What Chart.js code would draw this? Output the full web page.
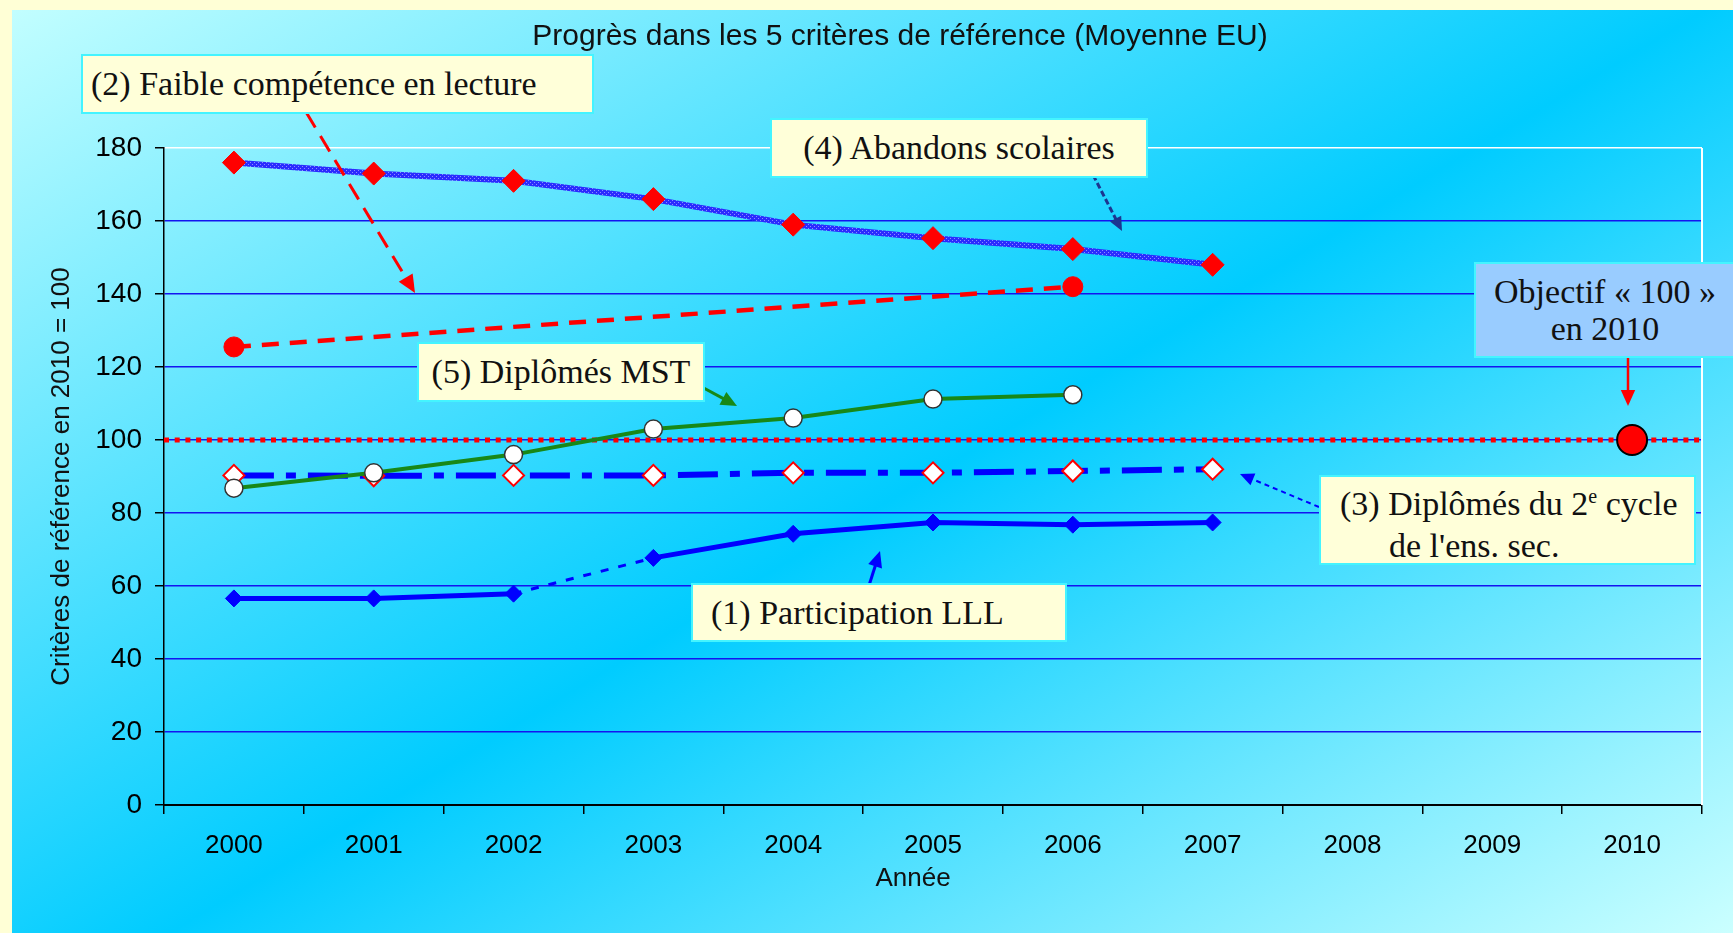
<!DOCTYPE html>
<html>
<head>
<meta charset="utf-8">
<script src="https://cdn.jsdelivr.net/npm/chart.js@4.4.0/dist/chart.umd.min.js"></script>
<style>
  body { margin: 0; }
  #page { position: relative; width: 1733px; height: 933px; background: #ffffd6; overflow: hidden; }
  #panel { position: absolute; left: 12px; top: 10px; right: 0; bottom: 0;
           background: linear-gradient(149deg, #c2feff 0%, #00ccff 52%, #cbffff 100%); }
  #chart { position: absolute; left: 0; top: 0; }
  .title { position: absolute; left: 900px; top: 21px; transform: translateX(-50%);
           font-family: 'Liberation Sans', Arial, sans-serif; font-size: 30px; line-height: 28px;
           white-space: nowrap; color: #111; }
  .xtitle { position: absolute; left: 913px; top: 863px; transform: translateX(-50%);
            font-family: 'Liberation Sans', Arial, sans-serif; font-size: 26px; line-height: 28px; color: #111; }
  .box { position: absolute; box-sizing: border-box; background: #ffffd9; border: 2px solid #44f4ff;
         font-family: 'Liberation Serif', serif; font-size: 34px; color: #111; white-space: nowrap;
         display: flex; align-items: center; }
  .center { justify-content: center; }
</style>
</head>
<body>
<div id="page">
  <div id="panel"></div>
  <canvas id="chart" width="1733" height="933"></canvas>
  <div class="title">Progrès dans les 5 critères de référence (Moyenne EU)</div>
  <div class="xtitle">Année</div>

  <div class="box" style="left:81px; top:54px; width:513px; height:60px; padding-left:8px;">(2) Faible compétence en lecture</div>
  <div class="box center" style="left:770px; top:118px; width:378px; height:60px;">(4) Abandons scolaires</div>
  <div class="box center" style="left:1474px; top:262px; width:262px; height:96px; background:#99ccff; text-align:center; line-height:37px;">Objectif « 100 »<br>en 2010</div>
  <div class="box center" style="left:417px; top:342px; width:288px; height:60px;">(5) Diplômés MST</div>
  <div class="box" style="left:1319px; top:475px; width:377px; height:90px; display:block; line-height:37px; padding-top:8px;">
    <div style="padding-left:19px;">(3) Diplômés du 2<span style="font-size:20px; position:relative; top:-12px;">e</span> cycle</div>
    <div style="padding-left:68px;">de l'ens. sec.</div>
  </div>
  <div class="box" style="left:691px; top:583px; width:376px; height:59px; padding-left:18px;">(1) Participation LLL</div>
</div>

<script>
// years on the x axis
const years = ['2000', '2001', '2002', '2003', '2004', '2005', '2006', '2007', '2008', '2009', '2010'];

// series (2010 = 100)
const lllValues      = [56.6, 56.6, 57.9, 67.7, 74.3, 77.4, 76.8, 77.4, null, null, null];
const readingValues  = [125.5, null, null, null, null, null, 142, null, null, null, null];
const upperSecValues = [90.3, 90.2, 90.3, 90.3, 91, 91, 91.5, 92, null, null, null];
const dropoutValues  = [176, 173, 171, 166, 159, 155.3, 152.3, 148, null, null, null];
const mstValues      = [86.8, 91, 96, 103, 106, 111.2, 112.4, null, null, null, null];
const targetValues   = [null, null, null, null, null, null, null, null, null, null, 100];

const targetLevel = 100;
const yMin = 0, yMax = 180, yStep = 20;

// textured blue for the drop-out line
function hatch() {
  const c = document.createElement('canvas');
  c.width = 4; c.height = 4;
  const g = c.getContext('2d');
  g.fillStyle = '#2b2bff';
  g.fillRect(0, 0, 4, 4);
  g.fillStyle = '#8c8cff';
  g.fillRect(0, 0, 1, 1);
  g.fillRect(2, 2, 1, 1);
  return g.createPattern(c, 'repeat');
}

function arrow(ctx, x1, y1, x2, y2, color, width, dash, head) {
  const a = Math.atan2(y2 - y1, x2 - x1);
  const hl = head || 14;
  ctx.save();
  ctx.strokeStyle = color;
  ctx.fillStyle = color;
  ctx.lineWidth = width;
  ctx.setLineDash(dash || []);
  ctx.beginPath();
  ctx.moveTo(x1, y1);
  ctx.lineTo(x2 - Math.cos(a) * hl * 0.8, y2 - Math.sin(a) * hl * 0.8);
  ctx.stroke();
  ctx.setLineDash([]);
  ctx.beginPath();
  ctx.moveTo(x2, y2);
  ctx.lineTo(x2 - hl * Math.cos(a) + hl * 0.45 * Math.sin(a), y2 - hl * Math.sin(a) - hl * 0.45 * Math.cos(a));
  ctx.lineTo(x2 - hl * Math.cos(a) - hl * 0.45 * Math.sin(a), y2 - hl * Math.sin(a) + hl * 0.45 * Math.cos(a));
  ctx.closePath();
  ctx.fill();
  ctx.restore();
}

const decorations = {
  id: 'decorations',
  beforeDatasetsDraw(chart) {
    const {ctx, chartArea, scales} = chart;
    ctx.save();
    // white right border of the plot
    ctx.strokeStyle = '#ffffff';
    ctx.lineWidth = 2;
    ctx.beginPath();
    ctx.moveTo(chartArea.right, chartArea.top);
    ctx.lineTo(chartArea.right, chartArea.bottom);
    ctx.stroke();
    // target line at 100
    const y = scales.y.getPixelForValue(targetLevel);
    ctx.strokeStyle = '#ff0000';
    ctx.lineWidth = 5;
    ctx.setLineDash([5, 5.7]);
    ctx.beginPath();
    ctx.moveTo(chartArea.left, y);
    ctx.lineTo(chartArea.right, y);
    ctx.stroke();
    ctx.restore();
  },
  afterDatasetsDraw(chart) {
    const ctx = chart.ctx;
    arrow(ctx, 306, 112, 415, 293, '#ff0000', 3, [18, 10], 18);
    arrow(ctx, 1089, 167, 1122, 231, '#1c3590', 3, [6, 3], 14);
    arrow(ctx, 1628, 358, 1628, 406, '#ff0000', 2.5, [], 16);
    arrow(ctx, 700, 386, 737, 406, '#188818', 3, [], 16);
    arrow(ctx, 865, 598, 880, 551, '#0000ff', 3, [], 16);
    arrow(ctx, 1319, 507, 1240, 474, '#0000ff', 2, [5, 4], 14);
  }
};

new Chart(document.getElementById('chart'), {
  type: 'line',
  data: {
    labels: years,
    datasets: [
      {
        label: '(5) Diplômés MST',
        data: mstValues,
        order: 0,
        borderColor: '#188818',
        borderWidth: 4,
        pointStyle: 'circle',
        pointRadius: 9,
        pointBackgroundColor: '#ffffff',
        pointBorderColor: '#333333',
        pointBorderWidth: 1.5
      },
      {
        label: "(3) Diplômés du 2e cycle de l'ens. sec.",
        data: upperSecValues,
        order: 1,
        borderColor: '#0000ff',
        borderWidth: 6,
        borderDash: [40, 12, 10, 12],
        pointStyle: 'rectRot',
        pointRadius: 10.5,
        pointBackgroundColor: '#ffffff',
        pointBorderColor: '#ff0000',
        pointBorderWidth: 2
      },
      {
        label: '(1) Participation LLL',
        data: lllValues,
        order: 2,
        borderColor: '#0000ff',
        borderWidth: 5,
        segment: {
          borderDash: ctx => ctx.p0DataIndex === 2 ? [8, 10] : undefined,
          borderWidth: ctx => ctx.p0DataIndex === 2 ? 3 : undefined
        },
        pointStyle: 'rectRot',
        pointRadius: 8.5,
        pointBackgroundColor: '#0000ff',
        pointBorderColor: '#0000ff',
        pointBorderWidth: 1
      },
      {
        label: '(2) Faible compétence en lecture',
        data: readingValues,
        order: 3,
        spanGaps: true,
        borderColor: '#ff0000',
        borderWidth: 4.5,
        borderDash: [17, 11],
        pointStyle: 'circle',
        pointRadius: 10,
        pointBackgroundColor: '#ff0000',
        pointBorderColor: '#ff0000',
        pointBorderWidth: 1
      },
      {
        label: '(4) Abandons scolaires',
        data: dropoutValues,
        order: 4,
        borderColor: hatch(),
        borderWidth: 6,
        pointStyle: 'rectRot',
        pointRadius: 11.5,
        pointBackgroundColor: '#ff0000',
        pointBorderColor: '#ff0000',
        pointBorderWidth: 1
      },
      {
        label: 'Objectif « 100 » en 2010',
        data: targetValues,
        order: 5,
        showLine: false,
        pointStyle: 'circle',
        pointRadius: 15,
        pointBackgroundColor: '#ff0000',
        pointBorderColor: '#000000',
        pointBorderWidth: 2
      }
    ]
  },
  options: {
    responsive: false,
    devicePixelRatio: 1,
    animation: false,
    layout: { padding: { left: 0, top: 148, right: 31, bottom: 0 } },
    plugins: {
      legend: { display: false },
      tooltip: { enabled: false },
      title: { display: false }
    },
    scales: {
      x: {
        type: 'category',
        offset: true,
        afterFit: s => { s.height = 128; },
        grid: { drawOnChartArea: false, drawTicks: true, tickLength: 9, tickColor: '#000000', offset: true, lineWidth: 1.5 },
        border: { color: '#000000', width: 2 },
        ticks: { color: '#000000', padding: 16, maxRotation: 0, autoSkip: false,
                 font: { family: 'Liberation Sans', size: 26 } },
        title: { display: false }
      },
      y: {
        min: yMin,
        max: yMax,
        afterFit: s => { s.width = 164; },
        grid: {
          color: ctx => (ctx.tick && ctx.tick.value === yMax) ? '#ffffff' : '#1414f0',
          lineWidth: 1.5,
          tickLength: 9,
          tickColor: '#000000'
        },
        border: { color: '#000000', width: 1.5 },
        ticks: { stepSize: yStep, color: '#000000', padding: 13,
                 font: { family: 'Liberation Sans', size: 28 } },
        title: { display: true, text: 'Critères de référence en 2010 = 100', color: '#111111',
                 font: { family: 'Liberation Sans', size: 26 }, padding: { top: 46, bottom: 0 } }
      }
    }
  },
  plugins: [decorations]
});
</script>
</body>
</html>
